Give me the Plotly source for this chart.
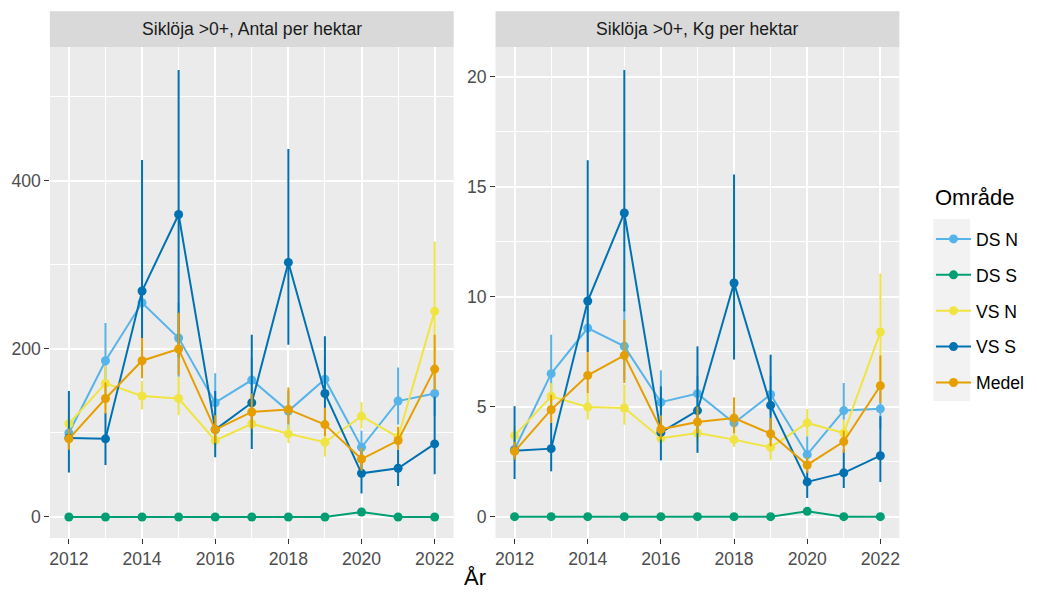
import plotly.graph_objects as go

years = list(range(2012, 2023))
series = ["DS N", "DS S", "VS N", "VS S", "Medel"]
colors = {"DS N": "#56B4E9", "DS S": "#009E73", "VS N": "#F0E442",
          "VS S": "#0072B2", "Medel": "#E69F00"}

# Antal per hektar
antal_ds_n = [100, 186, 255, 213, 136, 163, 126, 164, 83, 138, 147]
antal_ds_s = [0, 0, 0, 0, 0, 0, 0, 0, 6, 0, 0]
antal_vs_n = [111, 159, 144, 141, 91, 111, 99, 89, 120, 95, 245]
antal_vs_s = [94, 93, 269, 360, 104, 136, 303, 147, 52, 58, 87]
antal_medel = [93, 141, 186, 200, 104, 125, 128, 110, 69, 91, 176]

antal_ds_n_lo = [85, 140, 215, 167, 100, 140, 105, 140, 65, 110, 120]
antal_ds_n_hi = [115, 231, 295, 255, 171, 190, 150, 190, 103, 178, 175]
antal_ds_s_lo = antal_ds_s
antal_ds_s_hi = antal_ds_s
antal_vs_n_lo = [95, 128, 128, 121, 80, 95, 88, 72, 105, 82, 165]
antal_vs_n_hi = [125, 180, 162, 167, 102, 128, 110, 103, 137, 108, 328]
antal_vs_s_lo = [53, 62, 213, 190, 71, 81, 205, 110, 28, 37, 51]
antal_vs_s_hi = [150, 124, 425, 532, 150, 217, 438, 215, 78, 80, 143]
antal_medel_lo = [80, 123, 165, 169, 88, 105, 111, 96, 55, 80, 151]
antal_medel_hi = [105, 160, 213, 243, 121, 147, 154, 130, 82, 107, 217]

# Kg per hektar
kg_ds_n = [3.05, 6.5, 8.57, 7.74, 5.2, 5.59, 4.26, 5.55, 2.82, 4.82, 4.9]
kg_ds_s = [0, 0, 0, 0, 0, 0, 0, 0, 0.24, 0, 0]
kg_vs_n = [3.68, 5.47, 4.98, 4.94, 3.56, 3.8, 3.5, 3.15, 4.26, 3.8, 8.39]
kg_vs_s = [3.0, 3.09, 9.8, 13.8, 3.83, 4.82, 10.62, 5.06, 1.58, 1.99, 2.77]
kg_medel = [2.97, 4.86, 6.42, 7.33, 3.97, 4.3, 4.48, 3.77, 2.35, 3.41, 5.95]

kg_ds_n_lo = [2.6, 4.7, 7.5, 6.2, 3.9, 4.6, 3.8, 4.6, 2.3, 4.4, 4.0]
kg_ds_n_hi = [3.5, 8.27, 9.6, 9.4, 6.65, 6.4, 4.8, 6.4, 3.65, 6.07, 5.7]
kg_ds_s_lo = kg_ds_s
kg_ds_s_hi = kg_ds_s
kg_vs_n_lo = [3.2, 4.9, 4.41, 4.18, 3.3, 3.4, 3.17, 2.59, 3.65, 3.4, 5.7]
kg_vs_n_hi = [4.1, 6.07, 5.62, 6.0, 3.85, 4.2, 3.85, 3.6, 4.89, 4.4, 11.05]
kg_vs_s_lo = [1.71, 2.06, 7.47, 9.33, 2.56, 2.9, 7.14, 3.5, 0.85, 1.3, 1.58]
kg_vs_s_hi = [5.02, 4.26, 16.2, 20.3, 5.92, 7.74, 15.55, 7.36, 2.1, 3.05, 4.56]
kg_medel_lo = [2.6, 4.26, 5.62, 6.07, 3.5, 3.8, 3.8, 3.2, 2.0, 2.9, 5.17]
kg_medel_hi = [3.4, 5.54, 7.47, 8.95, 4.6, 5.0, 5.42, 4.48, 2.7, 3.9, 7.32]

panel_titles = ["Siklöja >0+, Antal per hektar", "Siklöja >0+, Kg per hektar"]
legend_title = "Område"
x_title = "År"
x_tickvals = [2012, 2014, 2016, 2018, 2020, 2022]
y1_tickvals = [0, 200, 400]
y2_tickvals = [0, 5, 10, 15, 20]

antal = {
    "DS N": (antal_ds_n, antal_ds_n_lo, antal_ds_n_hi),
    "DS S": (antal_ds_s, antal_ds_s_lo, antal_ds_s_hi),
    "VS N": (antal_vs_n, antal_vs_n_lo, antal_vs_n_hi),
    "VS S": (antal_vs_s, antal_vs_s_lo, antal_vs_s_hi),
    "Medel": (antal_medel, antal_medel_lo, antal_medel_hi),
}
kg = {
    "DS N": (kg_ds_n, kg_ds_n_lo, kg_ds_n_hi),
    "DS S": (kg_ds_s, kg_ds_s_lo, kg_ds_s_hi),
    "VS N": (kg_vs_n, kg_vs_n_lo, kg_vs_n_hi),
    "VS S": (kg_vs_s, kg_vs_s_lo, kg_vs_s_hi),
    "Medel": (kg_medel, kg_medel_lo, kg_medel_hi),
}

OFF = 8  # default page body margin
FW, FH = 1037 - 2 * OFF, 592 - OFF
FONT = "Liberation Sans, Arial, sans-serif"


def px_x(p):
    return (p - OFF) / FW


def px_y(p):
    return (OFF + FH - p) / FH


fig = go.Figure()
for panel, data in enumerate([antal, kg]):
    xa = "x" if panel == 0 else "x2"
    ya = "y" if panel == 0 else "y2"
    for s in series:
        vals, lo, hi = data[s]
        fig.add_trace(go.Scatter(
            x=years, y=vals, mode="lines+markers", name=s,
            legendgroup=s, showlegend=(panel == 0),
            line=dict(color=colors[s], width=2),
            marker=dict(color=colors[s], size=9),
            error_y=dict(type="data", symmetric=False,
                         array=[h - v for h, v in zip(hi, vals)],
                         arrayminus=[v - l for v, l in zip(vals, lo)],
                         color=colors[s], thickness=2, width=0),
            xaxis=xa, yaxis=ya,
        ))

ax_common = dict(
    showgrid=True, gridcolor="white", gridwidth=1.5,
    zeroline=False, showline=False,
    ticks="outside", ticklen=4.5, tickwidth=1.1, tickcolor="#333333",
    tickfont=dict(family=FONT, size=17.6, color="#4D4D4D"),
    automargin=False,
)

xrange = [2011.48, 2022.52]
fig.update_layout(
    width=FW, height=FH,
    margin=dict(l=0, r=0, t=0, b=0),
    paper_bgcolor="white", plot_bgcolor="#EBEBEB",
    font=dict(family=FONT, color="black"),
    xaxis=dict(**ax_common, domain=[px_x(50), px_x(455)], range=xrange,
               tickvals=x_tickvals, anchor="y",
               minor=dict(dtick=1, tick0=2011, showgrid=True, gridcolor="white",
                          gridwidth=0.8, ticklen=0)),
    xaxis2=dict(**ax_common, domain=[px_x(497), px_x(902)], range=xrange,
                tickvals=x_tickvals, anchor="y2",
                minor=dict(dtick=1, tick0=2011, showgrid=True, gridcolor="white",
                           gridwidth=0.8, ticklen=0)),
    yaxis=dict(**ax_common, domain=[px_y(538), px_y(47.3)], range=[-25, 559],
               tickvals=y1_tickvals, anchor="x",
               minor=dict(dtick=100, tick0=0, showgrid=True, gridcolor="white",
                          gridwidth=0.8, ticklen=0)),
    yaxis2=dict(**ax_common, domain=[px_y(538), px_y(47.3)], range=[-0.97, 21.33],
                tickvals=y2_tickvals, anchor="x2",
                minor=dict(dtick=2.5, tick0=0, showgrid=True, gridcolor="white",
                           gridwidth=0.8, ticklen=0)),
    legend=dict(
        x=px_x(934), y=px_y(221), xanchor="left", yanchor="top",
        bgcolor="rgba(0,0,0,0)", borderwidth=0,
        font=dict(family=FONT, size=17.6, color="black"),
        tracegroupgap=10, itemwidth=35,
    ),
    showlegend=True,
)

shapes = []
annotations = []
for i, (x0, x1) in enumerate([(50, 455), (497, 902)]):
    shapes.append(dict(type="rect", xref="paper", yref="paper",
                       x0=px_x(x0), x1=px_x(x1), y0=px_y(47.3), y1=px_y(11.3),
                       fillcolor="#D9D9D9", line=dict(width=0), layer="below"))
    annotations.append(dict(text=panel_titles[i], xref="paper", yref="paper",
                            x=px_x((x0 + x1) / 2), y=px_y(29.3), showarrow=False,
                            xanchor="center", yanchor="middle",
                            font=dict(family=FONT, size=17.6, color="#1A1A1A")))
# legend key background
shapes.append(dict(type="rect", xref="paper", yref="paper",
                   x0=px_x(936), x1=px_x(973), y0=px_y(401), y1=px_y(219),
                   fillcolor="#F2F2F2", line=dict(width=0), layer="below"))
annotations.append(dict(text=legend_title, xref="paper", yref="paper",
                        x=px_x(936), y=px_y(198), showarrow=False,
                        xanchor="left", yanchor="middle",
                        font=dict(family=FONT, size=22, color="black")))
annotations.append(dict(text=x_title, xref="paper", yref="paper",
                        x=px_x(476), y=px_y(577), showarrow=False,
                        xanchor="center", yanchor="middle",
                        font=dict(family=FONT, size=22, color="black")))
fig.update_layout(shapes=shapes, annotations=annotations)

fig.write_html("out.html")
